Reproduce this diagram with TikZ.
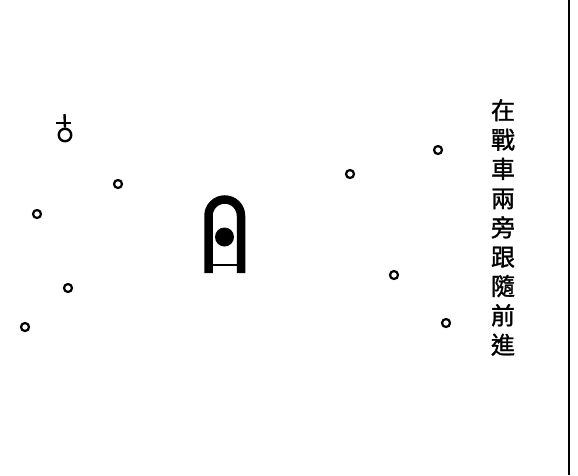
\documentclass[tikz,border=0pt]{standalone}
\usepackage{fontspec}
\newfontfamily\cjk{Noto Sans CJK TC}[FakeBold=1.2]
\begin{document}
\begin{tikzpicture}[x=1pt,y=-1pt,
  soldier/.style={circle,draw=black,line width=2.2pt,minimum size=8pt,inner sep=0pt},
  banner/.style={circle,draw=black,line width=2.4pt,minimum size=12.5pt,inner sep=0pt},
  chariot/.style={line width=8.5pt,draw=black},
  caption/.style={align=center,inner sep=0pt,font=\cjk\fontsize{24}{29.3}\selectfont}]
\useasboundingbox[fill=white] (0,0) rectangle (578,475);
% right frame line
\coordinate (ftop) at (569,0);
\coordinate (fbot) at (569,475);
\draw[line width=2.4pt] (ftop) -- (fbot);
% soldiers
\node[soldier] (s1) at (118,184) {};
\node[soldier] (s2) at (37,214) {};
\node[soldier] (s3) at (68,288) {};
\node[soldier] (s4) at (25,327) {};
\node[soldier] (s5) at (350,174) {};
\node[soldier] (s6) at (438,150) {};
\node[soldier] (s7) at (394,275) {};
\node[soldier] (s8) at (446,323) {};
% banner / commander symbol
\node[banner] (b) at (65,135) {};
\coordinate (bt) at (64.5,114);
\coordinate (bl) at (56,123);
\coordinate (br) at (71,123);
\draw[line width=2.4pt] (bt) -- (b.north);
\draw[line width=2.2pt] (bl) -- (br);
% chariot
\coordinate (cl) at (208.5,273);
\coordinate (cr) at (241,273);
\draw[chariot] (cl) -- (208.5,215.75) arc[start angle=180,end angle=360,radius=16.25] -- (cr);
\node[circle,fill=black,minimum size=19pt,inner sep=0pt] (ball) at (224.5,237) {};
\coordinate (al) at (212,265);
\coordinate (ar) at (237,265);
\draw[line width=1.4pt] (al) -- (ar);
% caption
\node[caption,anchor=north] (cap) at (503,99) {在\\戰\\車\\兩\\旁\\跟\\隨\\前\\進};
\end{tikzpicture}
\end{document}
